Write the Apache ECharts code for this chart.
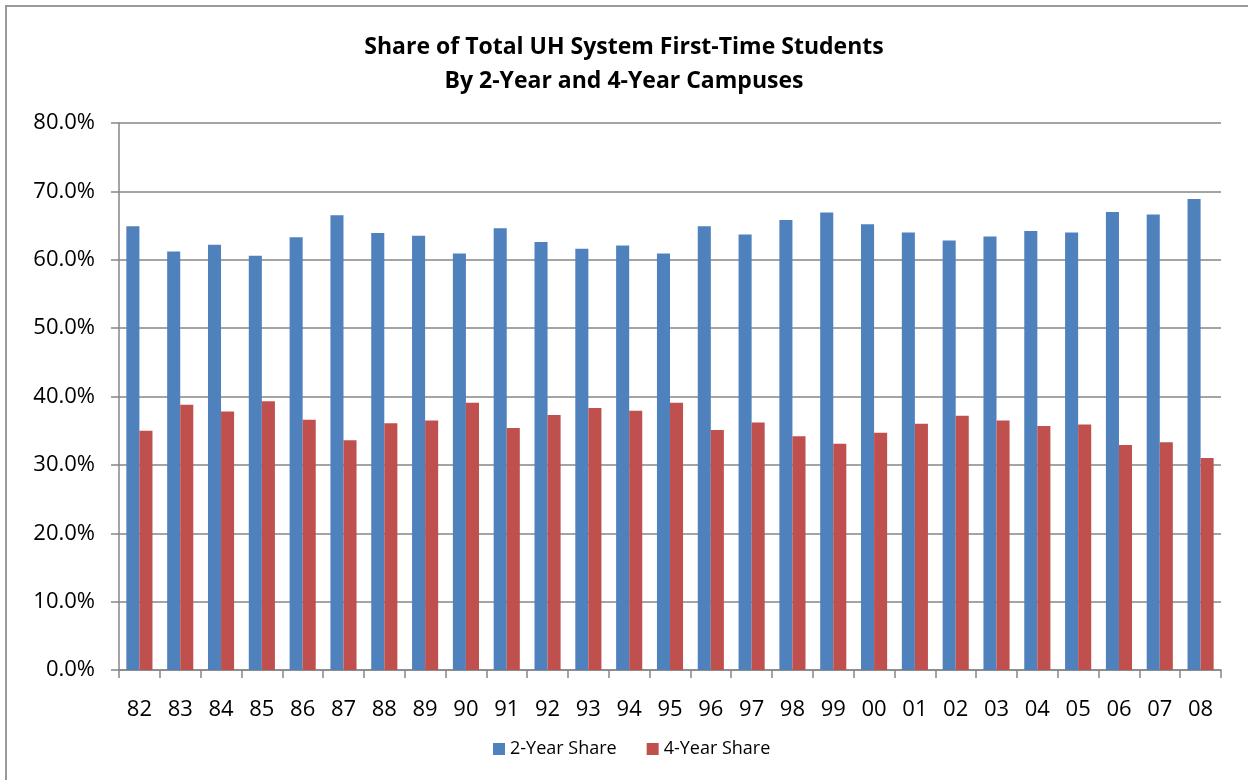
<!DOCTYPE html>
<html>
<head>
<meta charset="utf-8">
<script src="https://cdn.jsdelivr.net/npm/echarts@6/dist/echarts.min.js"></script>
<style>
html,body{margin:0;padding:0;background:#fff;}
#c{width:1248px;height:780px;}
</style>
</head>
<body>
<div id="c"></div>
<script>
const categories = ['82','83','84','85','86','87','88','89','90','91','92','93','94','95','96','97','98','99','00','01','02','03','04','05','06','07','08'];
const twoYearShare = [64.9,61.2,62.2,60.6,63.3,66.5,63.9,63.5,60.9,64.6,62.6,61.6,62.1,60.9,64.9,63.7,65.8,66.9,65.2,64.0,62.8,63.4,64.2,64.0,67.0,66.6,68.9];
const fourYearShare = [35.0,38.8,37.8,39.3,36.6,33.6,36.1,36.5,39.1,35.4,37.3,38.3,37.9,39.1,35.1,36.2,34.2,33.1,34.7,36.0,37.2,36.5,35.7,35.9,32.9,33.3,31.0];
const titleText = 'Share of Total UH System First-Time Students\nBy 2-Year and 4-Year Campuses';

const FONT = '"Open Sans", "Liberation Sans", sans-serif';
const chart = echarts.init(document.getElementById('c'), null, {renderer: 'canvas'});
chart.setOption({
  animation: false,
  backgroundColor: '#fff',
  textStyle: {fontFamily: FONT},
  graphic: [{
    type: 'rect',
    shape: {x: 6, y: 6, width: 1260, height: 800},
    style: {fill: 'none', stroke: '#999', lineWidth: 2},
    silent: true
  }],
  title: {
    text: titleText,
    left: 'center',
    top: 25,
    textStyle: {fontFamily: FONT, fontSize: 23, fontWeight: 'bold', lineHeight: 34, color: '#000'}
  },
  legend: {
    data: ['2-Year Share', '4-Year Share'],
    top: 735,
    left: 488,
    itemWidth: 12,
    itemHeight: 12,
    itemGap: 30,
    icon: 'rect',
    textStyle: {fontFamily: FONT, fontSize: 18, color: '#000'}
  },
  grid: {left: 119, right: 27, top: 123, bottom: 110, containLabel: false},
  xAxis: {
    type: 'category',
    data: categories,
    axisLine: {show: true, lineStyle: {color: '#868686', width: 1.5}},
    axisTick: {show: true, alignWithLabel: false, length: 8, lineStyle: {color: '#868686', width: 1.5}},
    axisLabel: {color: '#000', fontSize: 22, margin: 29, fontFamily: FONT, interval: 0}
  },
  yAxis: {
    type: 'value',
    min: 0,
    max: 80,
    interval: 10,
    axisLine: {show: true, lineStyle: {color: '#868686', width: 1.5}},
    axisTick: {show: true, length: 8, lineStyle: {color: '#868686', width: 1.5}},
    splitLine: {show: true, lineStyle: {color: '#868686', width: 1.5}},
    axisLabel: {color: '#000', fontSize: 22, margin: 24, fontFamily: FONT,
      formatter: v => v.toFixed(1) + '%'}
  },
  series: [
    {name: '2-Year Share', type: 'bar', data: twoYearShare, barGap: '0%', barCategoryGap: '36%',
     itemStyle: {color: '#4F81BD'}},
    {name: '4-Year Share', type: 'bar', data: fourYearShare, barGap: '0%', barCategoryGap: '36%',
     itemStyle: {color: '#C0504D'}}
  ]
});
</script>
</body>
</html>
